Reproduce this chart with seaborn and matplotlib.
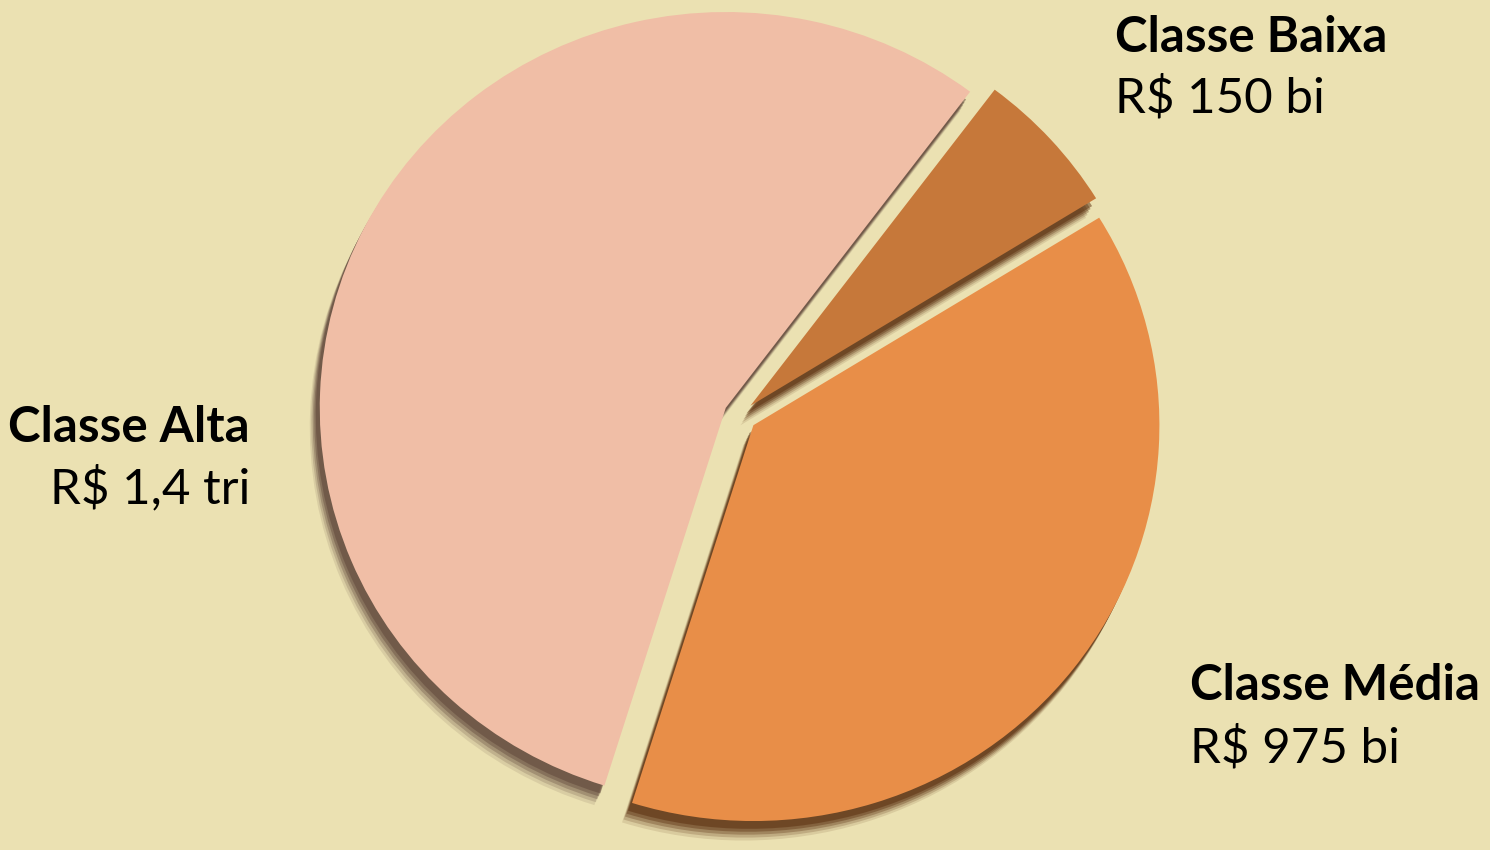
import numpy as np
import seaborn as sns
import matplotlib.pyplot as plt

# -----------------------------------------------
# Data
# -----------------------------------------------
classes = ['Classe Alta', 'Classe Média', 'Classe Baixa']
values = [1400, 975, 150]          # R$ bilhões
value_labels = ['R$ 1,4 tri', 'R$ 975 bi', 'R$ 150 bi']

colors = ['#f0bea6', '#e88e48', '#c6783a']
shadow_colors = ['#5e4438', '#5a2e0e', '#5a2e0e']
explode = [16, 17, 14]   # offsets in data units (pie radius = 406)

# -----------------------------------------------
# Style
# -----------------------------------------------
sns.set_theme(style="white")
plt.rcParams['font.family'] = ['Lato', 'DejaVu Sans']
bg = '#ebe1b2'

W, H = 1490, 850
squash = 0.975      # pie in the picture is a touch flatter than wide


def py(y_px):
    # pixel row (from top) -> data y
    return (H - y_px) / squash


fig = plt.figure(figsize=(14.9, 8.5), dpi=100)
fig.patch.set_facecolor(bg)
ax = fig.add_axes([0, 0, 1, 1])
ax.set_facecolor(bg)

center = (740, py(415))
radius = 406

# soft drop shadow (stacked layers, offset down-left)
for k, a in zip([20, 17, 14, 11, 8], [0.12, 0.2, 0.3, 0.4, 0.5]):
    ax.pie(values, colors=shadow_colors, explode=explode, startangle=53,
           center=(center[0] - k * 0.5, center[1] - k), radius=radius,
           wedgeprops=dict(linewidth=0, alpha=a), frame=True)

ax.pie(values, colors=colors, explode=explode, startangle=53,
       center=center, radius=radius,
       wedgeprops=dict(linewidth=0), frame=True)

ax.set_xlim(0, W)
ax.set_ylim(0, H / squash)
ax.set_aspect('auto')
ax.axis('off')

# -----------------------------------------------
# Labels
# -----------------------------------------------
fs = 35.5
# Classe Alta (right aligned, left of pie)
ax.text(250, py(442), classes[0], fontsize=fs, fontweight='bold',
        ha='right', va='baseline', color='black')
ax.text(250, py(503), value_labels[0], fontsize=fs,
        ha='right', va='baseline', color='black')
# Classe Média
ax.text(1190, py(700), classes[1], fontsize=fs, fontweight='bold',
        ha='left', va='baseline', color='black')
ax.text(1190, py(762), value_labels[1], fontsize=fs,
        ha='left', va='baseline', color='black')
# Classe Baixa
ax.text(1115, py(52), classes[2], fontsize=fs, fontweight='bold',
        ha='left', va='baseline', color='black')
ax.text(1115, py(112), value_labels[2], fontsize=fs,
        ha='left', va='baseline', color='black')

fig.savefig('out.png', dpi=100, facecolor=bg)
